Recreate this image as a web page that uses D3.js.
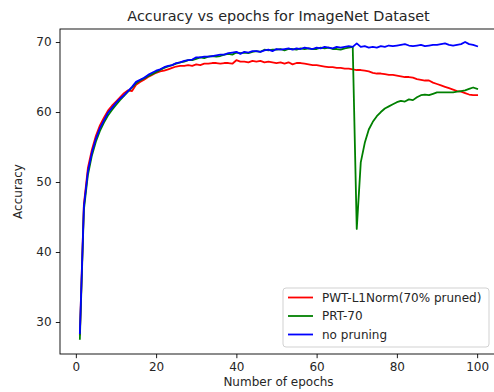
<!DOCTYPE html>
<html><head><meta charset="utf-8">
<script src="https://cdn.jsdelivr.net/npm/d3@7"></script>
<style>body{margin:0;background:#fff}svg{display:block}text{font-family:"DejaVu Sans",sans-serif;fill:#262626}</style>
</head><body><svg id="c" width="494" height="392"></svg>
<script>
const epochs = d3.range(1, 101);
const pwtL1 = [28.2,46.8,52.0,54.6,56.6,58.1,59.2,60.2,60.9,61.5,62.1,62.7,63.1,63.0,63.9,64.3,64.6,65.0,65.3,65.6,65.8,65.9,66.1,66.3,66.5,66.6,66.6,66.7,66.6,66.8,66.7,66.9,66.9,67.0,67.0,66.9,67.0,67.0,66.9,67.4,67.2,67.2,67.1,67.3,67.2,67.3,67.1,67.2,67.1,67.0,67.1,66.9,67.1,66.8,67.0,67.0,66.9,66.8,66.7,66.7,66.6,66.5,66.4,66.4,66.3,66.3,66.2,66.2,66.1,66.0,66.0,65.9,65.8,65.6,65.5,65.5,65.4,65.3,65.3,65.2,65.1,65.0,65.0,64.9,64.7,64.6,64.5,64.5,64.2,64.0,63.8,63.6,63.4,63.2,63.0,62.9,62.7,62.5,62.4,62.4];
const prt70 = [27.6,46.0,51.0,53.8,55.8,57.3,58.5,59.5,60.3,61.0,61.7,62.3,62.9,63.5,64.1,64.5,64.8,65.1,65.4,65.7,66.0,66.3,66.5,66.7,66.9,67.1,67.2,67.4,67.4,67.6,67.8,67.7,67.9,68.0,67.9,68.0,68.2,68.3,68.2,68.5,68.4,68.5,68.4,68.6,68.7,68.6,68.9,68.8,68.9,68.9,69.0,68.8,69.0,69.0,68.9,69.1,69.0,69.1,69.0,69.0,69.2,69.1,69.2,69.0,69.0,68.9,69.1,69.2,69.3,43.3,52.8,55.6,57.5,58.6,59.4,60.0,60.5,60.8,61.1,61.4,61.6,61.5,61.8,61.7,62.1,62.4,62.5,62.4,62.6,62.8,62.8,62.8,62.8,62.8,62.9,63.0,63.1,63.3,63.5,63.3];
const noPruning = [28.4,46.5,51.5,54.2,56.2,57.7,58.8,59.9,60.6,61.3,61.9,62.4,63.0,63.6,64.3,64.6,64.9,65.3,65.6,65.9,66.1,66.4,66.6,66.7,67.0,67.1,67.3,67.4,67.5,67.8,67.8,67.9,67.9,68.0,68.1,68.2,68.2,68.4,68.5,68.6,68.3,68.6,68.5,68.7,68.7,68.6,68.8,68.9,68.7,69.0,68.9,69.0,69.1,68.9,69.1,69.0,69.2,69.1,69.0,69.2,69.1,69.3,69.2,69.1,69.3,69.2,69.3,69.4,69.3,69.8,69.3,69.4,69.2,69.3,69.2,69.4,69.3,69.5,69.4,69.5,69.6,69.7,69.5,69.4,69.5,69.6,69.4,69.5,69.6,69.6,69.7,69.8,69.6,69.5,69.6,69.7,70.0,69.7,69.6,69.4];
const seriesNames = ["PWT-L1Norm(70% pruned)", "PRT-70", "no pruning"];
const seriesColors = ["#ff0000", "#008000", "#0000ff"];
const xTicks = [0, 20, 40, 60, 80, 100];
const yTicks = [30, 40, 50, 60, 70];

const series = [pwtL1, prt70, noPruning];
const svg = d3.select("#c");
const L = 60, R = 497, T = 29, B = 354;
const x = d3.scaleLinear().domain([-3.95, 104.95]).range([L, R]);
const y = d3.scaleLinear().domain([25.43, 71.86]).range([B, T]);

svg.append("text").attr("x", (L + R) / 2).attr("y", 20.5).attr("text-anchor", "middle")
  .style("font-size", "14.4px").text("Accuracy vs epochs for ImageNet Dataset");

svg.append("clipPath").attr("id", "pc").append("rect")
  .attr("x", L).attr("y", T).attr("width", R - L).attr("height", B - T);

const g = svg.append("g").attr("clip-path", "url(#pc)");
const line = d3.line().x((d, i) => x(epochs[i])).y(d => y(d));
series.forEach((s, k) => {
  g.append("path").datum(s).attr("d", line).attr("fill", "none")
    .attr("stroke", seriesColors[k]).attr("stroke-width", 1.8)
    .attr("stroke-linejoin", "round").attr("stroke-linecap", "square");
});

const xa = svg.append("g").attr("transform", `translate(0,${B})`)
  .call(d3.axisBottom(x).tickValues(xTicks).tickSize(4.2).tickPadding(4.2).tickFormat(d3.format("d")));
const ya = svg.append("g").attr("transform", `translate(${L},0)`)
  .call(d3.axisLeft(y).tickValues(yTicks).tickSize(4.2).tickPadding(4.2).tickFormat(d3.format("d")));
[xa, ya].forEach(a => {
  a.select(".domain").remove();
  a.selectAll("line").attr("stroke", "#000").attr("stroke-width", 0.9);
  a.selectAll("text").style("font-size", "12px").attr("fill", "#262626").style("font-family", "DejaVu Sans");
});

svg.append("rect").attr("x", L).attr("y", T).attr("width", R - L).attr("height", B - T)
  .attr("fill", "none").attr("stroke", "#000").attr("stroke-width", 0.9);

svg.append("text").attr("x", (L + R) / 2).attr("y", 386).attr("text-anchor", "middle")
  .style("font-size", "12px").text("Number of epochs");
svg.append("text").attr("transform", `translate(21.5,${(T + B) / 2}) rotate(-90)`).attr("text-anchor", "middle")
  .style("font-size", "12px").text("Accuracy");

const lg = svg.append("g");
lg.append("rect").attr("x", 283).attr("y", 288).attr("width", 206).attr("height", 59).attr("rx", 3)
  .attr("fill", "#fff").attr("fill-opacity", 0.8).attr("stroke", "#cccccc").attr("stroke-width", 0.9);
seriesNames.forEach((n, k) => {
  const yy = 297.5 + k * 18.5;
  lg.append("line").attr("x1", 288).attr("x2", 313).attr("y1", yy).attr("y2", yy)
    .attr("stroke", seriesColors[k]).attr("stroke-width", 1.8);
  lg.append("text").attr("x", 322).attr("y", yy + 4.3).style("font-size", "12px").text(n);
});
</script></body></html>
